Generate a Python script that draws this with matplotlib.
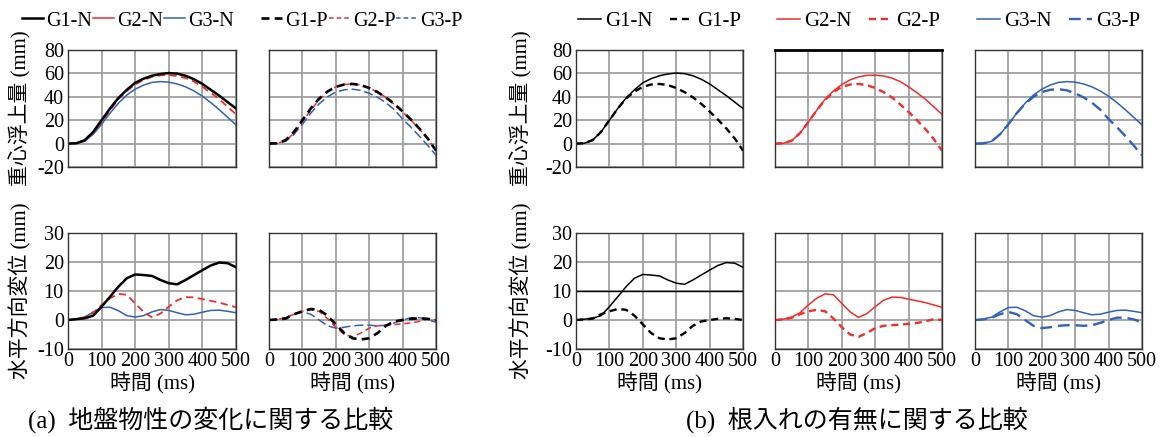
import matplotlib
matplotlib.use("Agg")
import matplotlib.pyplot as plt
from matplotlib.lines import Line2D

plt.rcParams['font.family'] = ['Liberation Serif', 'Noto Sans CJK JP']
plt.rcParams['axes.unicode_minus'] = False

# time axis (ms)
t = [0, 25, 50, 75, 100, 125, 150, 175, 200, 225, 250,
     275, 300, 325, 350, 375, 400, 425, 450, 475, 500]

# vertical lift of centre of gravity (mm)
lift_g1_n = [0, 0.3, 3, 10, 20, 30, 39, 46, 52, 55.5, 58, 59.5, 60.3, 59.8, 58, 55, 51, 46, 41, 35.5, 30]
lift_g2_n = [0, 0.3, 2.5, 9, 18.5, 28.5, 38, 45, 50.5, 54.5, 57, 58.3, 58.5, 57.8, 56, 53, 48.5, 43.5, 38, 31.5, 25]
lift_g3_n = [0, 0.2, 2, 8, 16.5, 26, 34.5, 41.5, 46.5, 50, 52.3, 53, 52.5, 51, 48.5, 45, 40.5, 35, 29, 22.5, 16]
lift_g1_p = [0, 0.3, 3, 10, 20, 30, 38.5, 44.5, 48.5, 50.5, 51, 50, 47.5, 44, 39.5, 34, 27.5, 20.5, 13, 4.5, -6]
lift_g2_p = [0, 0.3, 2.5, 9, 18.5, 28.5, 37.5, 44, 48.5, 50.5, 51, 50, 47.5, 44, 39.5, 33.5, 27, 20, 12.5, 4, -6]
lift_g3_p = [0, 0.2, 2, 8, 16.5, 26, 34, 40, 44, 46, 46.5, 45.5, 43, 39.5, 35, 29, 21, 14, 6.5, -1.5, -10]

# horizontal displacement (mm)
horiz_g1_n = [0, 0.3, 0.6, 1.5, 4.6, 8, 11.5, 14.4, 15.7, 15.5, 15.2, 13.8, 12.7, 12.3, 13.8, 15.5, 17.2, 18.8, 19.8, 19.6, 18.2]
horiz_g2_n = [0, 0.3, 1, 2.5, 5.2, 7.5, 9, 8.7, 5.7, 2.8, 0.9, 2.2, 4.6, 6.8, 7.9, 7.8, 7.2, 6.6, 6, 5.2, 4.4]
horiz_g3_n = [0, 0.3, 1, 2.8, 4.3, 4.4, 3.2, 1.5, 1, 1.5, 2.8, 3.6, 3.3, 2.5, 1.8, 2, 2.7, 3.3, 3.4, 3, 2.5]
horiz_g1_p = [0, 0.2, 0.5, 2, 3, 3.8, 3.5, 1.5, -1.5, -4.5, -6.3, -6.7, -6.3, -4.5, -2, -0.5, 0, 0.4, 0.6, 0.4, 0]
horiz_g2_p = [0, 0.2, 0.8, 2, 3, 3.5, 3, 0.5, -2.5, -5, -5.8, -4.5, -2.8, -2, -1.8, -1.6, -1.3, -1, -0.5, 0.3, 0]
horiz_g3_p = [0, 0.2, 0.8, 2, 2.8, 2, 0, -2, -2.8, -2.5, -2, -1.8, -1.8, -2, -1.8, -1, 0, 0.8, 0.8, 0.2, -0.8]

RED = '#f52a2a'
BLUE = '#2f62b8'
W, H = 1162, 437
FS = 15
TICK_FS = 14.5

fig = plt.figure(figsize=(W / 100, H / 100), dpi=100)


def px_axes(x0, x1, y0, y1):
    return fig.add_axes([x0 / W, 1 - y1 / H, (x1 - x0) / W, (y1 - y0) / H])


def style(ax, top, ylab, xlab):
    ax.set_xlim(0, 500)
    ax.set_xticks(range(0, 501, 100))
    if top:
        ax.set_ylim(-20, 80)
        ax.set_yticks(range(-20, 81, 20))
    else:
        ax.set_ylim(-10, 30)
        ax.set_yticks(range(-10, 31, 10))
    ax.grid(color='#a0a0a0', lw=1.3)
    ax.set_axisbelow(True)
    ax.tick_params(length=0, labelsize=TICK_FS,
                   labelleft=ylab, labelbottom=xlab)
    ax.tick_params(axis='x', pad=2.5)
    ax.tick_params(axis='y', pad=3.0)
    for s in ax.spines.values():
        s.set_color('#333333')
        s.set_linewidth(1.0)
    if xlab:
        ax.text(0.5, -0.3, '時間 (ms)', transform=ax.transAxes,
                ha='center', va='center', fontsize=FS)


cols_a = [(68, 236), (269, 436)]
cols_b = [(576, 743), (775, 942), (975, 1142)]
row_top = (50, 167)
row_bot = (233, 349)

# (a) comparison of ground properties
ax = px_axes(*cols_a[0], *row_top)
style(ax, True, True, False)
ax.plot(t, lift_g3_n, color=BLUE, lw=1.1)
ax.plot(t, lift_g2_n, color=RED, lw=1.3, dashes=(4, 2.5))
ax.plot(t, lift_g1_n, color='black', lw=1.8)

ax = px_axes(*cols_a[1], *row_top)
style(ax, True, False, False)
ax.plot(t, lift_g3_p, color=BLUE, lw=1.1, dashes=(6, 2.5))
ax.plot(t, lift_g2_p, color=RED, lw=1.1, dashes=(4, 2.5))
ax.plot(t, lift_g1_p, color='black', lw=1.9, dashes=(3, 2))

ax = px_axes(*cols_a[0], *row_bot)
style(ax, False, True, True)
ax.plot(t, horiz_g3_n, color=BLUE, lw=1.1)
ax.plot(t, horiz_g2_n, color=RED, lw=1.3, dashes=(4, 2.5))
ax.plot(t, horiz_g1_n, color='black', lw=1.8)

ax = px_axes(*cols_a[1], *row_bot)
style(ax, False, False, True)
ax.plot(t, horiz_g3_p, color=BLUE, lw=1.1, dashes=(6, 2.5))
ax.plot(t, horiz_g2_p, color=RED, lw=1.1, dashes=(4, 2.5))
ax.plot(t, horiz_g1_p, color='black', lw=1.9, dashes=(3, 2))

# (b) with / without embedment
pairs = [
    ('G1', 'black', lift_g1_n, lift_g1_p, horiz_g1_n, horiz_g1_p, (3, 2)),
    ('G2', RED, lift_g2_n, lift_g2_p, horiz_g2_n, horiz_g2_p, (3, 2)),
    ('G3', BLUE, lift_g3_n, lift_g3_p, horiz_g3_n, horiz_g3_p, (5, 2.5)),
]
for i, (name, c, ln, lp, hn, hp, dash) in enumerate(pairs):
    x0, x1 = cols_b[i]
    first = i == 0
    at = px_axes(x0, x1, *row_top)
    style(at, True, first, False)
    at.plot(t, lp, color=c, lw=1.7, dashes=dash)
    at.plot(t, ln, color=c, lw=1.1)
    ab = px_axes(x0, x1, *row_bot)
    style(ab, False, first, True)
    ab.plot(t, hp, color=c, lw=1.7, dashes=dash)
    ab.plot(t, hn, color=c, lw=1.1)
    if name == 'G1':
        ab.axhline(10, color='black', lw=1.0, zorder=1.5)
    if name == 'G2':
        at.spines['top'].set_color('black')
        at.spines['top'].set_linewidth(2.0)
    handles = [Line2D([], [], color=c, lw=1.1),
               Line2D([], [], color=c, lw=1.7, dashes=dash)]
    fig.legend(handles, [name + '-N', name + '-P'], loc='center',
               bbox_to_anchor=((x0 + x1) / 2 / W, 1 - 21 / H), ncol=2,
               frameon=False, fontsize=FS, handlelength=1.1,
               handletextpad=0.2, columnspacing=0.8, borderpad=0,
               borderaxespad=0)

# legends for (a)
h_n = [Line2D([], [], color='black', lw=1.8),
       Line2D([], [], color=RED, lw=1.1),
       Line2D([], [], color=BLUE, lw=1.1)]
h_p = [Line2D([], [], color='black', lw=1.9, dashes=(3, 2)),
       Line2D([], [], color=RED, lw=1.1, dashes=(3, 2)),
       Line2D([], [], color=BLUE, lw=1.1, dashes=(3, 2))]
for h, labels, x in [(h_n, ['G1-N', 'G2-N', 'G3-N'], 22),
                     (h_p, ['G1-P', 'G2-P', 'G3-P'], 261)]:
    fig.legend(h, labels, loc='center left', bbox_to_anchor=(x / W, 1 - 21 / H),
               ncol=3, frameon=False, fontsize=14.5, handlelength=1.05,
               handletextpad=0.15, columnspacing=0.05, borderpad=0,
               borderaxespad=0)

# axis titles
for x in (20, 521):
    fig.text(x / W, 1 - 108.5 / H, '重心浮上量 (mm)', rotation=90,
             ha='center', va='center', fontsize=FS)
    fig.text(x / W, 1 - 291 / H, '水平方向変位 (mm)', rotation=90,
             ha='center', va='center', fontsize=FS)

fig.text(211 / W, 1 - 420 / H, '(a)  地盤物性の変化に関する比較',
         ha='center', va='center', fontsize=18)
fig.text(857 / W, 1 - 420 / H, '(b)  根入れの有無に関する比較',
         ha='center', va='center', fontsize=18)

fig.savefig('out.png', dpi=100)
